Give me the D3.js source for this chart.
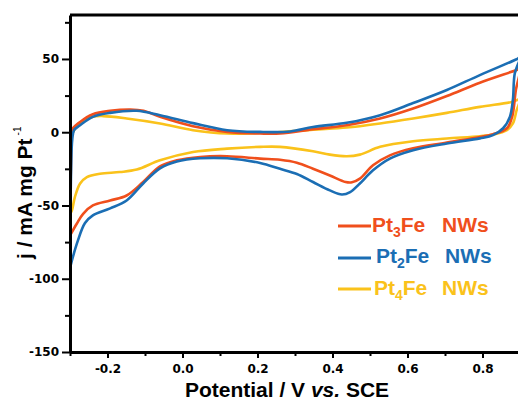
<!DOCTYPE html>
<html>
<head>
<meta charset="utf-8">
<script src="https://cdn.jsdelivr.net/npm/d3@7/dist/d3.min.js"></script>
<style>
  body { margin: 0; background: #fff; }
  svg { display: block; }
</style>
</head>
<body>
<svg id="chart" width="518" height="400"></svg>
<script>
// Axis ticks
const xTicks = [-0.2, 0.0, 0.2, 0.4, 0.6, 0.8];
const xTickLabels = ["-0.2", "0.0", "0.2", "0.4", "0.6", "0.8"];
const xMinorTicks = [-0.3, -0.1, 0.1, 0.3, 0.5, 0.7];
const yTicks = [50, 0, -50, -100, -150];
const yTickLabels = ["50", "0", "-50", "-100", "-150"];
const yMinorTicks = [75, 25, -25, -75, -125];

// Cyclic voltammograms: [potential (V vs. SCE), current density (mA mg Pt^-1)]
// Pt3Fe NWs
const pt3feAnodic = [
  [-0.3, -70.5], [-0.299, -45], [-0.297, -15], [-0.295, 1.4], [-0.273, 7],
  [-0.239, 12.3], [-0.193, 14.6], [-0.139, 15.5], [-0.104, 14.6], [-0.06, 10.5],
  [0.028, 4.1], [0.119, 0.2], [0.207, -0.9], [0.26, -0.9], [0.348, 2],
  [0.438, 4.8], [0.527, 9.4], [0.615, 16.2], [0.705, 24.7], [0.793, 33.8],
  [0.891, 42.5], [0.9, 43.5]
];
const pt3feCathodic = [
  [0.9, 43.5], [0.889, 28.8], [0.879, 10.5], [0.865, 2.7], [0.828, -1.4],
  [0.705, -7], [0.615, -11], [0.553, -15.8], [0.508, -22.6], [0.473, -31.7],
  [0.452, -34.2], [0.435, -34], [0.393, -29.5], [0.348, -24.9], [0.305, -20.8],
  [0.26, -18.8], [0.207, -18], [0.119, -16.4], [0.047, -16.9], [-0.015, -19.2],
  [-0.06, -23.3], [-0.105, -34], [-0.149, -43.2], [-0.193, -46.6], [-0.239, -50],
  [-0.265, -55.7], [-0.282, -62.5], [-0.3, -70.5]
];

// Pt2Fe NWs
const pt2feAnodic = [
  [-0.3, -93], [-0.299, -60], [-0.297, -25], [-0.294, -5], [-0.289, 1.5],
  [-0.273, 4.8], [-0.239, 10.5], [-0.193, 13.2], [-0.122, 14.6], [-0.06, 11.6],
  [0.028, 6.2], [0.119, 1.4], [0.207, 0.2], [0.287, 0.5], [0.348, 3.6],
  [0.438, 6.4], [0.527, 11.6], [0.615, 19.9], [0.705, 28.8], [0.793, 39],
  [0.891, 49.8], [0.9, 51]
];
const pt2feCathodic = [
  [0.9, 51], [0.886, 40], [0.881, 22], [0.873, 10.5], [0.855, 2.7],
  [0.828, -2], [0.793, -4.2], [0.705, -7.7], [0.615, -12.3], [0.553, -18],
  [0.508, -26], [0.473, -35], [0.447, -40.9], [0.425, -42.5], [0.393, -39.7],
  [0.348, -34], [0.305, -28.5], [0.26, -25], [0.207, -21], [0.119, -17.8],
  [0.047, -17.8], [-0.015, -20], [-0.06, -24.7], [-0.105, -35], [-0.149, -46.6],
  [-0.193, -52], [-0.239, -56.8], [-0.26, -62], [-0.279, -74], [-0.295, -87.7],
  [-0.3, -93]
];

// Pt4Fe NWs
const pt4feAnodic = [
  [-0.3, -55.7], [-0.299, -30], [-0.297, -8], [-0.292, 0], [-0.273, 6],
  [-0.239, 10.5], [-0.211, 11], [-0.149, 9.4], [-0.06, 6], [0.028, 1.4],
  [0.119, -0.9], [0.26, 0.2], [0.348, 1.8], [0.438, 3.2], [0.527, 6],
  [0.615, 9.4], [0.705, 13.2], [0.793, 17.3], [0.881, 20.8], [0.9, 22.5]
];
const pt4feCathodic = [
  [0.9, 22.5], [0.891, 15], [0.881, 6], [0.865, 1.4], [0.828, -1.6],
  [0.793, -2.7], [0.705, -4.3], [0.615, -6.2], [0.527, -10], [0.473, -15.3],
  [0.438, -16.4], [0.393, -15.3], [0.348, -13], [0.26, -10], [0.207, -10],
  [0.119, -11.2], [0.028, -13.5], [-0.06, -19.2], [-0.122, -25.5], [-0.167, -27.2],
  [-0.22, -28.3], [-0.255, -30.6], [-0.273, -35], [-0.287, -44.3], [-0.295, -53.4],
  [-0.3, -55.7]
];

const seriesNames = ["Pt3Fe", "Pt2Fe", "Pt4Fe"];
const seriesSubs = ["3", "2", "4"];
const seriesColors = ["#F04F1C", "#1B6EB4", "#FAC21B"];
const seriesLoops = [
  pt3feAnodic.concat(pt3feCathodic.slice(1)),
  pt2feAnodic.concat(pt2feCathodic.slice(1)),
  pt4feAnodic.concat(pt4feCathodic.slice(1))
];
// Drawing order: yellow underneath, blue on top
const drawOrder = [2, 0, 1];

const svg = d3.select("#chart");
const margin = { left: 70, top: 15, right: 520, bottom: 352 };

const x = d3.scaleLinear().domain([-0.3, 0.9]).range([margin.left, margin.right]);
const y = d3.scaleLinear().domain([-150, 80]).range([margin.bottom, margin.top]);

svg.append("defs").append("clipPath").attr("id", "plotClip")
  .append("rect")
  .attr("x", margin.left).attr("y", margin.top)
  .attr("width", margin.right - margin.left)
  .attr("height", margin.bottom - margin.top);

// Curves
const line = d3.line()
  .x(d => x(d[0]))
  .y(d => y(d[1]))
  .curve(d3.curveCatmullRom.alpha(0.5));

const curves = svg.append("g").attr("clip-path", "url(#plotClip)");
drawOrder.forEach(i => {
  curves.append("path")
    .datum(seriesLoops[i])
    .attr("d", line)
    .attr("fill", "none")
    .attr("stroke", seriesColors[i])
    .attr("stroke-width", 2.6)
    .attr("stroke-linejoin", "round");
});

// Frame: top and right edges
svg.append("path")
  .attr("d", `M${margin.left},${margin.top}H${margin.right}V${margin.bottom}`)
  .attr("fill", "none").attr("stroke", "#000").attr("stroke-width", 3);

const tickFont = "'DejaVu Sans', sans-serif";

// Bottom axis
const xAxis = svg.append("g")
  .attr("transform", `translate(0,${margin.bottom})`)
  .call(d3.axisBottom(x).tickValues(xTicks).tickSize(6).tickSizeOuter(0)
    .tickPadding(6).tickFormat((d, i) => xTickLabels[i]));
xAxis.select(".domain").attr("stroke-width", 3);
xAxis.selectAll(".tick line").attr("stroke-width", 2);
xAxis.selectAll(".tick text")
  .attr("font-family", tickFont).attr("font-weight", "bold")
  .attr("font-size", 12).attr("fill", "#000");
const xMinor = svg.append("g")
  .attr("transform", `translate(0,${margin.bottom})`)
  .call(d3.axisBottom(x).tickValues(xMinorTicks).tickSize(4).tickSizeOuter(0).tickFormat(""));
xMinor.select(".domain").remove();
xMinor.selectAll(".tick line").attr("stroke-width", 2);

// Left axis
const yAxis = svg.append("g")
  .attr("transform", `translate(${margin.left},0)`)
  .call(d3.axisLeft(y).tickValues(yTicks).tickSize(8).tickSizeOuter(0)
    .tickPadding(3).tickFormat((d, i) => yTickLabels[i]));
yAxis.select(".domain").attr("stroke-width", 3);
yAxis.selectAll(".tick line").attr("stroke-width", 2);
yAxis.selectAll(".tick text")
  .attr("font-family", tickFont).attr("font-weight", "bold")
  .attr("font-size", 12).attr("fill", "#000");
const yMinor = svg.append("g")
  .attr("transform", `translate(${margin.left},0)`)
  .call(d3.axisLeft(y).tickValues(yMinorTicks).tickSize(5).tickSizeOuter(0).tickFormat(""));
yMinor.select(".domain").remove();
yMinor.selectAll(".tick line").attr("stroke-width", 2);

const labelFont = "'Liberation Sans', Arial, sans-serif";

// X axis title
const xTitle = svg.append("text")
  .attr("x", 287).attr("y", 397)
  .attr("text-anchor", "middle")
  .attr("font-family", labelFont).attr("font-weight", "bold")
  .attr("font-size", 21).attr("fill", "#000");
xTitle.append("tspan").text("Potential / V ");
xTitle.append("tspan").attr("font-style", "italic").text("vs.");
xTitle.append("tspan").text(" SCE");

// Y axis title
const yTitle = svg.append("text")
  .attr("transform", "translate(32,259) rotate(-90)")
  .attr("font-family", labelFont).attr("font-weight", "bold")
  .attr("font-size", 21).attr("fill", "#000");
yTitle.append("tspan").text("j / mA mg Pt");
yTitle.append("tspan").attr("font-size", 10).attr("font-weight", "normal")
  .attr("dx", 3).attr("dy", -11).text("-1");

// Legend
const legendRows = [
  { line: 226, base: 232, tx: 372, nx: 442 },
  { line: 258, base: 263, tx: 376, nx: 445 },
  { line: 289, base: 295, tx: 374, nx: 442 }
];
const legend = svg.append("g");
legendRows.forEach((r, i) => {
  legend.append("line")
    .attr("x1", 338).attr("x2", 371)
    .attr("y1", r.line).attr("y2", r.line)
    .attr("stroke", seriesColors[i]).attr("stroke-width", 3);
  const t = legend.append("text")
    .attr("x", r.tx).attr("y", r.base)
    .attr("font-family", labelFont).attr("font-weight", "bold")
    .attr("font-size", 21).attr("fill", seriesColors[i]);
  t.append("tspan").text(seriesNames[i].slice(0, 2));
  t.append("tspan").attr("font-size", 14).attr("dy", 5).text(seriesSubs[i]);
  t.append("tspan").attr("dy", -5).text(seriesNames[i].slice(3));
  legend.append("text")
    .attr("x", r.nx).attr("y", r.base)
    .attr("font-family", labelFont).attr("font-weight", "bold")
    .attr("font-size", 21).attr("fill", seriesColors[i])
    .text("NWs");
});
</script>
</body>
</html>
